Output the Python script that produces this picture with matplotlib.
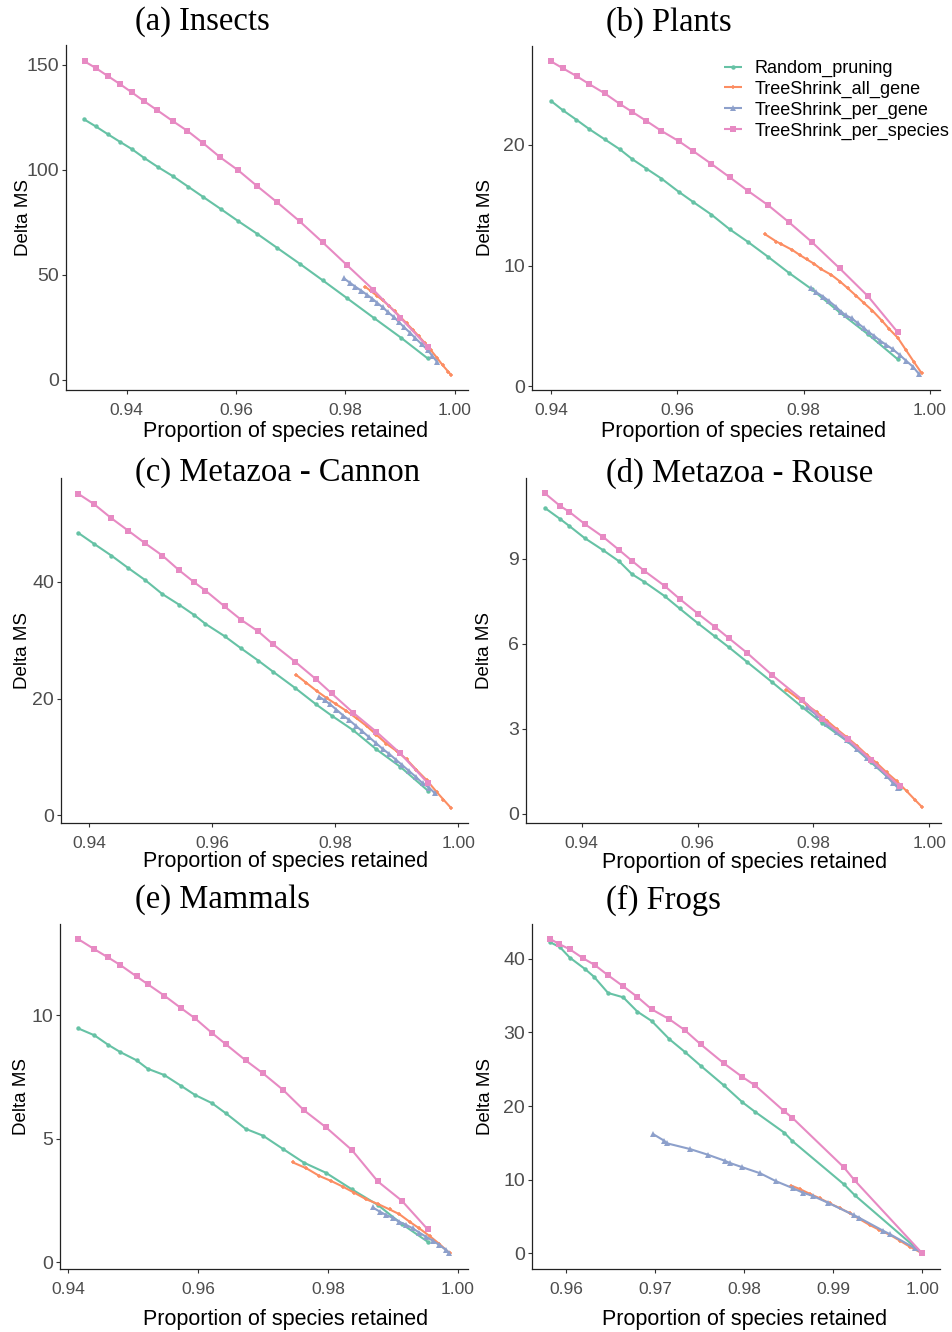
import matplotlib.pyplot as plt

# Set2 colours used for the four pruning strategies
GREEN = "#66C2A5"
ORANGE = "#FC8D62"
BLUE = "#8DA0CB"
PINK = "#E78AC3"

series_names = [
    "Random_pruning",
    "TreeShrink_all_gene",
    "TreeShrink_per_gene",
    "TreeShrink_per_species",
]

# ---- (a) Insects ----
a_random_x = [0.9322, 0.9343, 0.9365, 0.9387, 0.9409, 0.9432, 0.9457, 0.9484, 0.9512, 0.9540,
              0.9572, 0.9604, 0.9639, 0.9675, 0.9716, 0.9758, 0.9803, 0.9852, 0.9901, 0.9950]
a_random_y = [124.1, 120.8, 117.1, 113.5, 110.0, 105.7, 101.4, 97.1, 92.1, 87.1,
              81.4, 75.6, 69.5, 62.9, 55.4, 47.5, 38.9, 29.5, 20.2, 10.3]
a_all_x = [0.9836, 0.9846, 0.9857, 0.9868, 0.9879, 0.9890, 0.9901, 0.9912, 0.9923, 0.9934,
           0.9945, 0.9956, 0.9967, 0.9978, 0.9988, 0.9993]
a_all_y = [44.4, 42.4, 40.2, 37.9, 35.4, 32.7, 29.8, 26.9, 23.9, 20.8,
           17.6, 14.2, 10.6, 6.9, 3.9, 2.4]
a_gene_x = [0.9797, 0.9808, 0.9818, 0.9829, 0.9839, 0.9849, 0.9858, 0.9868, 0.9878, 0.9889,
            0.9898, 0.9907, 0.9918, 0.9928, 0.9939, 0.9950, 0.9959, 0.9967]
a_gene_y = [48.4, 46.3, 44.4, 42.5, 40.6, 38.7, 36.7, 34.6, 32.2, 29.8,
            27.5, 25.1, 22.5, 19.8, 17.1, 14.3, 11.4, 8.7]
a_species_x = [0.9323, 0.9343, 0.9365, 0.9387, 0.9409, 0.9432, 0.9456, 0.9484, 0.9511, 0.9540,
               0.9571, 0.9604, 0.9638, 0.9675, 0.9716, 0.9758, 0.9803, 0.9851, 0.9900, 0.9950]
a_species_y = [151.7, 148.6, 144.8, 141.0, 137.0, 132.7, 128.4, 123.3, 118.6, 112.7,
               106.0, 99.8, 92.4, 84.6, 75.6, 65.6, 54.6, 42.9, 29.7, 15.9]

# ---- (b) Plants ----
b_random_x = [0.9400, 0.9419, 0.9440, 0.9461, 0.9485, 0.9509, 0.9529, 0.9551, 0.9575, 0.9602,
              0.9625, 0.9654, 0.9683, 0.9712, 0.9744, 0.9777, 0.9813, 0.9857, 0.9902, 0.9949]
b_random_y = [23.65, 22.87, 22.10, 21.30, 20.47, 19.64, 18.81, 18.04, 17.21, 16.13,
              15.28, 14.23, 13.01, 11.96, 10.72, 9.39, 8.04, 6.13, 4.31, 2.24]
b_all_x = [0.9739, 0.9757, 0.9765, 0.9782, 0.9794, 0.9805, 0.9817, 0.9828, 0.9844, 0.9858,
           0.9870, 0.9883, 0.9896, 0.9909, 0.9924, 0.9936, 0.9949, 0.9962, 0.9975, 0.9987]
b_all_y = [12.60, 11.99, 11.77, 11.30, 10.88, 10.52, 10.14, 9.70, 9.23, 8.67,
           8.12, 7.51, 6.88, 6.27, 5.44, 4.72, 4.03, 3.01, 1.99, 1.08]
b_gene_x = [0.9811, 0.9820, 0.9831, 0.9840, 0.9851, 0.9859, 0.9867, 0.9876, 0.9886, 0.9896,
            0.9903, 0.9912, 0.9921, 0.9931, 0.9941, 0.9952, 0.9962, 0.9973, 0.9983]
b_gene_y = [8.12, 7.79, 7.43, 7.07, 6.60, 6.19, 5.88, 5.64, 5.22, 4.81,
            4.48, 4.17, 3.78, 3.43, 3.07, 2.60, 2.13, 1.63, 1.00]
b_species_x = [0.9400, 0.9419, 0.9441, 0.9461, 0.9485, 0.9509, 0.9529, 0.9551, 0.9575, 0.9602,
               0.9625, 0.9654, 0.9683, 0.9712, 0.9744, 0.9777, 0.9813, 0.9857, 0.9902, 0.9949]
b_species_y = [26.93, 26.35, 25.69, 25.03, 24.28, 23.40, 22.73, 21.99, 21.16, 20.33,
               19.50, 18.43, 17.32, 16.19, 15.00, 13.59, 11.96, 9.78, 7.46, 4.48]

# ---- (c) Metazoa - Cannon ----
c_random_x = [0.9382, 0.9408, 0.9436, 0.9463, 0.9491, 0.9519, 0.9546, 0.9571, 0.9589, 0.9620,
              0.9647, 0.9675, 0.9699, 0.9735, 0.9769, 0.9794, 0.9829, 0.9867, 0.9906, 0.9951]
c_random_y = [48.4, 46.5, 44.5, 42.4, 40.3, 37.9, 36.1, 34.3, 32.8, 30.7,
              28.6, 26.5, 24.6, 21.8, 19.0, 17.1, 14.6, 11.3, 8.3, 4.2]
c_all_x = [0.9736, 0.9753, 0.9770, 0.9786, 0.9802, 0.9818, 0.9835, 0.9851, 0.9867, 0.9883,
           0.9900, 0.9916, 0.9932, 0.9949, 0.9965, 0.9976, 0.9988]
c_all_y = [24.1, 22.7, 21.3, 20.1, 19.0, 17.9, 16.6, 15.3, 13.8, 12.3,
           11.0, 9.6, 7.8, 6.0, 4.0, 2.7, 1.3]
c_gene_x = [0.9774, 0.9783, 0.9792, 0.9802, 0.9813, 0.9823, 0.9834, 0.9844, 0.9855, 0.9866,
            0.9877, 0.9888, 0.9899, 0.9909, 0.9920, 0.9931, 0.9942, 0.9953, 0.9962]
c_gene_y = [20.3, 19.7, 19.0, 18.1, 17.1, 16.3, 15.3, 14.4, 13.4, 12.4,
            11.4, 10.5, 9.5, 8.6, 7.6, 6.6, 5.5, 4.7, 3.8]
c_species_x = [0.9382, 0.9408, 0.9436, 0.9463, 0.9491, 0.9519, 0.9546, 0.9571, 0.9589, 0.9620,
               0.9647, 0.9675, 0.9699, 0.9735, 0.9769, 0.9794, 0.9829, 0.9867, 0.9906, 0.9951]
c_species_y = [55.1, 53.3, 50.9, 48.8, 46.6, 44.5, 42.0, 39.9, 38.5, 35.8,
               33.5, 31.5, 29.3, 26.3, 23.3, 20.9, 17.6, 14.3, 10.6, 5.5]

# ---- (d) Metazoa - Rouse ----
d_random_x = [0.9336, 0.9363, 0.9379, 0.9405, 0.9437, 0.9465, 0.9487, 0.9508, 0.9543, 0.9569,
              0.9601, 0.9630, 0.9654, 0.9686, 0.9729, 0.9781, 0.9815, 0.9859, 0.9899, 0.9949]
d_random_y = [10.81, 10.41, 10.16, 9.74, 9.31, 8.91, 8.46, 8.19, 7.69, 7.25,
              6.72, 6.26, 5.88, 5.35, 4.64, 3.76, 3.20, 2.55, 1.82, 0.91]
d_all_x = [0.9753, 0.9771, 0.9788, 0.9806, 0.9823, 0.9840, 0.9857, 0.9875, 0.9892, 0.9909,
           0.9926, 0.9944, 0.9961, 0.9975, 0.9988]
d_all_y = [4.38, 4.11, 3.85, 3.58, 3.29, 2.99, 2.71, 2.40, 2.08, 1.79,
           1.46, 1.14, 0.79, 0.49, 0.22]
d_gene_x = [0.9788, 0.9806, 0.9823, 0.9840, 0.9857, 0.9875, 0.9892, 0.9909, 0.9926, 0.9937, 0.9946]
d_gene_y = [3.76, 3.47, 3.18, 2.88, 2.59, 2.28, 1.96, 1.67, 1.34, 1.08, 0.91]
d_species_x = [0.9336, 0.9363, 0.9379, 0.9405, 0.9437, 0.9465, 0.9487, 0.9508, 0.9543, 0.9569,
               0.9601, 0.9630, 0.9654, 0.9686, 0.9729, 0.9781, 0.9815, 0.9859, 0.9899, 0.9949]
d_species_y = [11.33, 10.87, 10.66, 10.24, 9.78, 9.31, 8.93, 8.58, 8.05, 7.59,
               7.06, 6.60, 6.20, 5.67, 4.89, 4.02, 3.34, 2.64, 1.91, 0.96]

# ---- (e) Mammals ----
e_random_x = [0.9415, 0.9440, 0.9461, 0.9480, 0.9505, 0.9522, 0.9548, 0.9574, 0.9595, 0.9621,
              0.9643, 0.9673, 0.9700, 0.9731, 0.9763, 0.9797, 0.9837, 0.9877, 0.9914, 0.9954]
e_random_y = [9.46, 9.18, 8.80, 8.50, 8.17, 7.83, 7.57, 7.13, 6.77, 6.44,
              6.02, 5.40, 5.12, 4.58, 4.03, 3.62, 2.95, 2.32, 1.55, 0.83]
e_all_x = [0.9746, 0.9767, 0.9787, 0.9805, 0.9823, 0.9841, 0.9859, 0.9877, 0.9895, 0.9910,
           0.9926, 0.9941, 0.9957, 0.9972, 0.9988]
e_all_y = [4.04, 3.80, 3.49, 3.29, 3.06, 2.81, 2.55, 2.36, 2.14, 1.95,
           1.64, 1.37, 1.06, 0.74, 0.36]
e_gene_x = [0.9869, 0.9880, 0.9890, 0.9900, 0.9910, 0.9921, 0.9931, 0.9941, 0.9951, 0.9962,
            0.9972, 0.9982, 0.9987]
e_gene_y = [2.22, 2.05, 1.91, 1.80, 1.64, 1.51, 1.37, 1.20, 1.04, 0.87, 0.70, 0.50, 0.36]
e_species_x = [0.9415, 0.9440, 0.9461, 0.9480, 0.9505, 0.9522, 0.9548, 0.9574, 0.9595, 0.9621,
               0.9643, 0.9673, 0.9700, 0.9731, 0.9763, 0.9797, 0.9837, 0.9877, 0.9914, 0.9954]
e_species_y = [13.07, 12.66, 12.33, 12.02, 11.56, 11.25, 10.78, 10.27, 9.87, 9.28,
               8.81, 8.17, 7.64, 6.97, 6.15, 5.46, 4.54, 3.27, 2.49, 1.33]

# ---- (f) Frogs ----
f_random_x = [0.9582, 0.9593, 0.9604, 0.9621, 0.9631, 0.9647, 0.9664, 0.9680, 0.9696, 0.9716,
              0.9733, 0.9751, 0.9777, 0.9798, 0.9812, 0.9845, 0.9854, 0.9912, 0.9924, 1.0000]
f_random_y = [42.26, 41.58, 40.17, 38.63, 37.59, 35.37, 34.78, 32.83, 31.56, 29.08,
              27.39, 25.49, 22.83, 20.52, 19.24, 16.39, 15.26, 9.38, 7.92, 0.0]
f_all_x = [0.9853, 0.9863, 0.9874, 0.9885, 0.9896, 0.9908, 0.9919, 0.9930, 0.9941, 0.9952,
           0.9964, 0.9975, 0.9986, 1.0000]
f_all_y = [9.19, 8.70, 8.06, 7.47, 6.79, 6.11, 5.43, 4.62, 3.85, 3.17,
           2.49, 1.71, 0.90, 0.0]
f_gene_x = [0.9698, 0.9710, 0.9713, 0.9739, 0.9759, 0.9778, 0.9784, 0.9797, 0.9818, 0.9836,
            0.9855, 0.9866, 0.9877, 0.9894, 0.9923, 0.9929, 0.9956, 0.9964, 0.9992, 1.0000]
f_gene_y = [16.17, 15.30, 14.95, 14.17, 13.40, 12.58, 12.27, 11.73, 10.87, 9.78,
            8.83, 8.24, 7.79, 6.88, 5.20, 4.84, 3.07, 2.58, 0.68, 0.0]
f_species_x = [0.9582, 0.9592, 0.9604, 0.9619, 0.9632, 0.9647, 0.9664, 0.9680, 0.9696, 0.9716,
               0.9733, 0.9751, 0.9777, 0.9798, 0.9812, 0.9845, 0.9854, 0.9912, 0.9924, 1.0000]
f_species_y = [42.70, 42.02, 41.30, 40.08, 39.17, 37.77, 36.28, 34.82, 33.15, 31.79,
               30.34, 28.40, 25.82, 23.95, 22.83, 19.29, 18.42, 11.68, 9.92, 0.0]

# colour, marker, marker size per strategy
styles = {
    "Random_pruning": (GREEN, "o", 3.2),
    "TreeShrink_all_gene": (ORANGE, "+", 3.5),
    "TreeShrink_per_gene": (BLUE, "^", 4.2),
    "TreeShrink_per_species": (PINK, "s", 4.3),
}

W, H = 953, 1332

# title, axes box in pixels (left, top, right, bottom), xlim, ylim, xticks, yticks, series
panels = [
    ("(a) Insects", (66, 45, 468, 390), (0.9289, 1.0024), (-4.8, 159.5),
     [0.94, 0.96, 0.98, 1.00], [0, 50, 100, 150],
     [(a_random_x, a_random_y), (a_all_x, a_all_y), (a_gene_x, a_gene_y), (a_species_x, a_species_y)]),
    ("(b) Plants", (532, 46, 940, 390), (0.9370, 1.0016), (-0.31, 28.2),
     [0.94, 0.96, 0.98, 1.00], [0, 10, 20],
     [(b_random_x, b_random_y), (b_all_x, b_all_y), (b_gene_x, b_gene_y), (b_species_x, b_species_y)]),
    ("(c) Metazoa - Cannon", (61, 478, 468, 823), (0.9354, 1.0016), (-1.32, 57.8),
     [0.94, 0.96, 0.98, 1.00], [0, 20, 40],
     [(c_random_x, c_random_y), (c_all_x, c_all_y), (c_gene_x, c_gene_y), (c_species_x, c_species_y)]),
    ("(d) Metazoa - Rouse", (526, 478, 941, 823), (0.9304, 1.0020), (-0.33, 11.86),
     [0.94, 0.96, 0.98, 1.00], [0, 3, 6, 9],
     [(d_random_x, d_random_y), (d_all_x, d_all_y), (d_gene_x, d_gene_y), (d_species_x, d_species_y)]),
    ("(e) Mammals", (60, 924, 468, 1269), (0.9387, 1.0016), (-0.27, 13.68),
     [0.94, 0.96, 0.98, 1.00], [0, 5, 10],
     [(e_random_x, e_random_y), (e_all_x, e_all_y), (e_gene_x, e_gene_y), (e_species_x, e_species_y)]),
    ("(f) Frogs", (532, 924, 940, 1269), (0.95615, 1.0020), (-2.13, 44.74),
     [0.96, 0.97, 0.98, 0.99, 1.00], [0, 10, 20, 30, 40],
     [(f_random_x, f_random_y), (f_all_x, f_all_y), (f_gene_x, f_gene_y), (f_species_x, f_species_y)]),
]

# where titles / axis labels sit, in pixels
title_pos = [(135, 22), (606, 22), (135, 473), (606, 473), (135, 900), (606, 900)]
xlabel_center = [285.5, 744, 285.5, 744.5, 285.5, 744.5]
xlabel_gap = [31, 31, 28, 29, 40, 40]
ylabel_gap = [34, 38, 30, 33, 30, 38]

plt.rcParams["font.family"] = ["Liberation Sans", "DejaVu Sans"]

fig = plt.figure(figsize=(W / 100, H / 100), dpi=100)
fig.patch.set_facecolor("white")

for i, (title, box, xlim, ylim, xt, yt, data) in enumerate(panels):
    left, top, right, bottom = box
    ax = fig.add_axes([left / W, 1 - bottom / H, (right - left) / W, (bottom - top) / H])

    for name, (xs, ys) in zip(series_names, data):
        color, marker, ms = styles[name]
        mew = 1.1 if marker == "+" else 0
        ax.plot(xs, ys, color=color, lw=1.5, marker=marker, ms=ms,
                mew=mew, mec=color, label=name, solid_capstyle="butt")

    ax.set_xlim(*xlim)
    ax.set_ylim(*ylim)
    ax.set_xticks(xt)
    ax.set_xticklabels([f"{t:.2f}" for t in xt])
    ax.set_yticks(yt)
    ax.set_yticklabels([str(t) for t in yt])

    for side in ("top", "right"):
        ax.spines[side].set_visible(False)
    for side in ("left", "bottom"):
        ax.spines[side].set_linewidth(0.9)
        ax.spines[side].set_color("#222222")

    ax.tick_params(axis="both", direction="out", length=3, width=0.8, color="#333333")
    ax.tick_params(axis="x", labelsize=12.5, labelcolor="#4D4D4D", pad=6.5)
    ax.tick_params(axis="y", labelsize=14, labelcolor="#4D4D4D", pad=2)

    ax.set_xlabel("Proportion of species retained", fontsize=15.5, color="black")
    ax.xaxis.set_label_coords((xlabel_center[i] - left) / (right - left),
                              -xlabel_gap[i] / (bottom - top))
    ax.set_ylabel("Delta MS", fontsize=13.5, color="black")
    ax.yaxis.set_label_coords(-ylabel_gap[i] / (right - left), 0.5)

    tx, ty = title_pos[i]
    fig.text(tx / W, 1 - ty / H, title, ha="left", va="center",
             family=["Liberation Serif", "DejaVu Serif"], fontsize=23.5)

    if i == 1:
        ax.legend(loc="upper left", bbox_to_anchor=(724 / W, 1 - 60 / H),
                  bbox_transform=fig.transFigure, frameon=False, fontsize=13,
                  handlelength=1.0, handletextpad=0.7, labelspacing=0.2,
                  borderpad=0, borderaxespad=0)

fig.savefig("out.png", dpi=100, facecolor="white")
